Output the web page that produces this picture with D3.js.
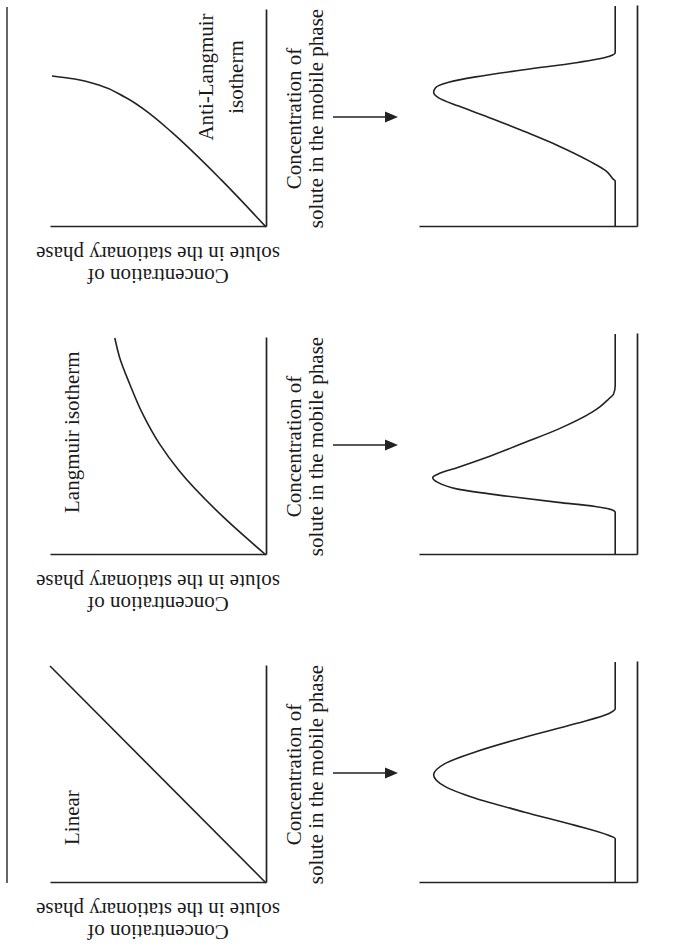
<!DOCTYPE html>
<html>
<head>
<meta charset="utf-8">
<script src="https://cdn.jsdelivr.net/npm/d3@7"></script>
<style>
body { margin: 0; background: #fff; }
text { font-family: "Liberation Serif", "Times New Roman", serif; font-size: 21px; fill: #1a1a1a; }
</style>
</head>
<body>
<div id="chart"></div>
<script>
var panels = ["Linear", "Langmuir", "Anti-Langmuir"];
var titles = [["Linear"], ["Langmuir isotherm"], ["Anti-Langmuir", "isotherm"]];
var mobileLabel = ["Concentration of", "solute in the mobile phase"];
var stationaryLabel = ["Concentration of", "solute in the stationary phase"];

// isotherms: [conc. in mobile phase, conc. in stationary phase], both 0-100
var isoLinear = [[0, 0], [100, 100]];
var isoLangmuir = [[0, 0], [18, 20.3], [38.7, 40.1], [51.2, 49.3], [65, 57.1], [78.8, 63.1], [90.8, 67.7], [100, 70]];
var isoAnti = [[0, 0], [21.7, 20.7], [43.8, 43.8], [51.6, 53], [59.9, 65.4], [65.4, 77.4], [68.2, 88.5], [69.6, 99.1]];

// elution profiles: [time, detector signal], baseline sits at 10
var peakLinear = [[0, 10], [20.5, 10], [22, 13.1], [26.6, 28.4], [32.7, 51.5], [39.2, 74.5], [44.7, 88.3], [50, 93.3],
    [55, 88.3], [60.4, 74.5], [67.3, 51.5], [73.5, 28.4], [78.1, 13.1], [80.4, 10], [102, 10]];
var peakLangmuir = [[0, 10], [19.7, 10], [20.9, 11.6], [22.4, 19.2], [24.3, 36.1], [27.1, 59.2], [30.4, 82.2], [33.5, 91.4],
    [35.8, 93.7], [37.3, 91.4], [40.4, 82.2], [45.8, 66.9], [51.9, 51.5], [58.1, 36.1], [65.8, 20.8], [68.5, 16.9],
    [71.9, 13.1], [74.2, 10.8], [78.1, 10], [102, 10]];
var peakAnti = [[0, 10], [21.2, 10], [22, 10.8], [25.8, 14.1], [30.4, 21.8], [37.3, 35.7], [43.8, 51], [50, 66.4],
    [55.8, 81.8], [59.6, 91], [62.2, 93.3], [64.2, 92.5], [66.8, 86.4], [69.3, 74], [72.7, 51], [75.8, 28], [78.8, 12.6], [80.4, 10], [102, 10]];

var isotherms = [isoLinear, isoLangmuir, isoAnti];
var peaks = [peakLinear, peakLangmuir, peakAnti];

// where each title goes, relative to the isotherm origin
var titlePos = [
    {dx: 38, ys: [79], anchor: "start"},
    {dx: 42, ys: [79], anchor: "start"},
    {dx: 150, ys: [213, 243], anchor: "middle"}
];

var width = 677,
    height = 945,
    ink = "#222";
var isoBase = 266,
    peakBase = 637;

var svg = d3.select("#chart").append("svg").attr("width", width).attr("height", height);
// the figure is laid out landscape and printed turned on its side
var fig = svg.append("g").attr("transform", "translate(0," + height + ") rotate(-90)");

var panelX = d3.scalePoint().domain(panels).range([62, 718]);
var xIso = d3.scaleLinear().domain([0, 100]).range([0, 217]);
var yIso = d3.scaleLinear().domain([0, 100]).range([0, -216]);
var xPeak = d3.scaleLinear().domain([0, 102]).range([0, 221]);
var yPeak = d3.scaleLinear().domain([0, 100]).range([0, -218]);

var isoLine = d3.line().x(function(d) { return xIso(d[0]); }).y(function(d) { return yIso(d[1]); }).curve(d3.curveMonotoneX);
var peakLine = d3.line().x(function(d) { return xPeak(d[0]); }).y(function(d) { return yPeak(d[1]); }).curve(d3.curveMonotoneX);

// rule along the page edge
fig.append("line").attr("x1", 62).attr("x2", 938).attr("y1", 7).attr("y2", 7)
    .attr("stroke", "#333").attr("stroke-width", 1.5);

function bareAxis(g, axis) {
    g.call(axis.tickValues([]).tickSizeOuter(0));
    g.select(".domain").attr("stroke", ink).attr("stroke-width", 1.7);
}

panels.forEach(function(p, i) {
    var x0 = panelX(p);

    // --- isotherm ---
    var iso = fig.append("g").attr("transform", "translate(" + x0 + "," + isoBase + ")");
    iso.append("g").call(bareAxis, d3.axisBottom(xIso));
    iso.append("g").call(bareAxis, d3.axisLeft(yIso));
    iso.append("path").attr("d", isoLine(isotherms[i]))
        .attr("fill", "none").attr("stroke", ink).attr("stroke-width", 1.6);

    var tp = titlePos[i];
    titles[i].forEach(function(t, j) {
        iso.append("text").attr("x", tp.dx).attr("y", tp.ys[j] - isoBase)
            .attr("text-anchor", tp.anchor).text(t);
    });

    // y label, reads upward
    var mid = -yIso.range()[1] / 2;
    stationaryLabel.forEach(function(t, j) {
        iso.append("text").attr("transform", "translate(" + (j === 0 ? -42 : -20) + "," + (-mid) + ") rotate(-90)")
            .attr("text-anchor", "middle").text(t);
    });

    // x label
    var cx = xIso.range()[1] / 2;
    mobileLabel.forEach(function(t, j) {
        iso.append("text").attr("x", cx).attr("y", (j === 0 ? 301 : 323) - isoBase)
            .attr("text-anchor", "middle").text(t);
    });

    // arrow down to the elution profile
    var ax = x0 + 110;
    fig.append("line").attr("x1", ax).attr("x2", ax).attr("y1", 333).attr("y2", 386)
        .attr("stroke", ink).attr("stroke-width", 1.6);
    fig.append("path")
        .attr("d", d3.line()([[ax - 5.5, 385], [ax + 5.5, 385], [ax, 398]]) + "Z")
        .attr("fill", ink);

    // --- elution profile ---
    var pk = fig.append("g").attr("transform", "translate(" + x0 + "," + peakBase + ")");
    pk.append("g").call(bareAxis, d3.axisBottom(xPeak));
    pk.append("g").call(bareAxis, d3.axisLeft(yPeak));
    pk.append("path").attr("d", peakLine(peaks[i]))
        .attr("fill", "none").attr("stroke", ink).attr("stroke-width", 1.6);
});
</script>
</body>
</html>
